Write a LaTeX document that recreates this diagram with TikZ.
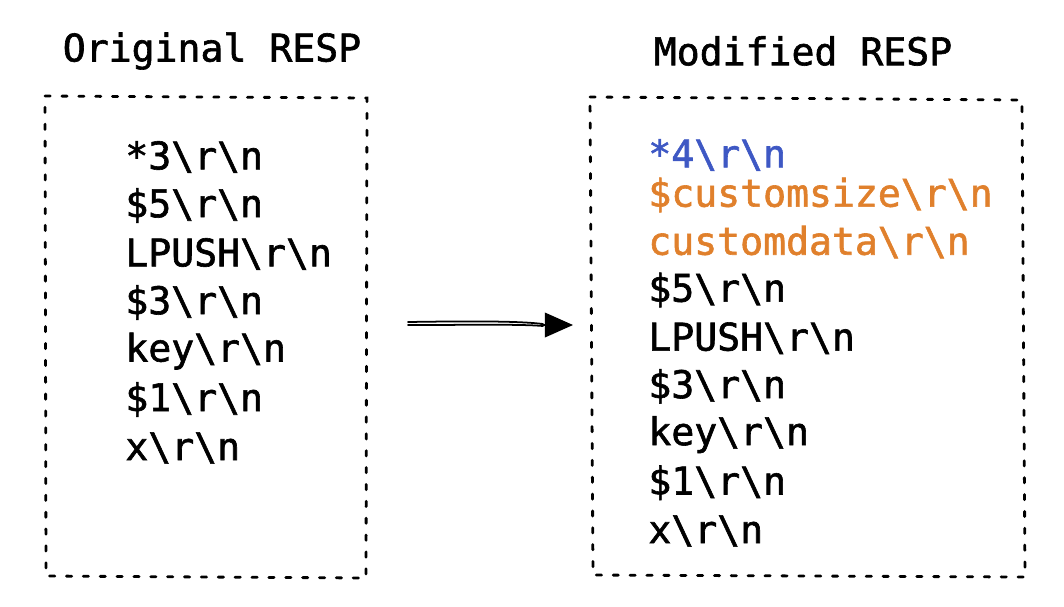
\documentclass[tikz,border=0pt]{standalone}
\usepackage{fontspec}
\newfontfamily\respmono{DejaVu Sans Mono}[FakeBold=1.6]
\usetikzlibrary{arrows.meta,positioning,calc}
\definecolor{respBlue}{RGB}{62, 88, 196}
\definecolor{respOrange}{RGB}{224, 128, 44}
\newcommand{\crlf}{\textbackslash r\textbackslash n}

\begin{document}
\begin{tikzpicture}[
  x=0.02cm, y=-0.02cm,
  title/.style={font=\respmono\fontsize{21.7}{26}\selectfont, inner sep=0pt},
  respline/.style={anchor=west, font=\respmono\fontsize{21.7}{26}\selectfont, inner sep=0pt},
  dotbox/.style={line width=1.6pt, dash pattern=on 3pt off 6.6pt, line cap=round},
  sketch/.style={line width=1pt, line cap=round}
]
\useasboundingbox (0,0) rectangle (1064,606);
% titles
\node[title] (origtitle) at (212,51) {Original RESP};
\node[title] (modtitle) at (803,51) {Modified RESP};
% boxes
\draw[dotbox] (45,96) -- (367,98) -- (366,578) -- (46,576) -- cycle;
\draw[dotbox] (590,97) -- (1022,100) -- (1025,577) -- (593,575) -- cycle;
% original command
\foreach \txt [count=\i] in {*3\crlf, \$5\crlf, LPUSH\crlf, \$3\crlf, key\crlf, \$1\crlf, x\crlf}
  \node[respline] (orig\i) at (125,157+48.5*\i-48.5) {\txt};
% modified command
\node[respline, text=respBlue] (mod1) at (648,155) {*4\crlf};
\node[respline, text=respOrange] (mod2) at (648,195) {\$customsize\crlf};
\node[respline, text=respOrange] (mod3) at (648,242) {customdata\crlf};
\foreach \txt [count=\i from 4] in {\$5\crlf, LPUSH\crlf, \$3\crlf, key\crlf, \$1\crlf, x\crlf}
  \node[respline] (mod\i) at (648,290+48.2*\i-192.8) {\txt};
% arrow
\coordinate (arrowstart) at (408,322);
\coordinate (arrowend) at (573,325);
\draw[sketch] (arrowstart) .. controls (470,321) and (520,321) .. ($(arrowend)+(-30,-1)$);
\draw[sketch] ($(arrowstart)+(0,3)$) .. controls (470,325) and (520,324) .. ($(arrowend)+(-30,1)$);
\draw[sketch, -{Triangle[length=16pt,width=14pt]}] ($(arrowend)+(-32,0)$) -- (arrowend);
\end{tikzpicture}
\end{document}
